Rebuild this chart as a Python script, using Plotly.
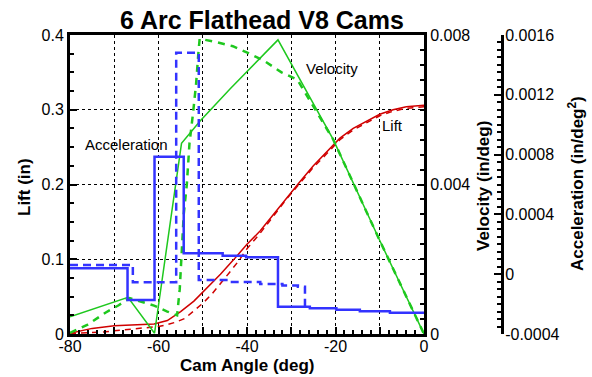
import plotly.graph_objects as go

# ---------------- data ----------------
# Lift (in) vs cam angle (deg)
lift_meas_deg = [-80, -75, -70, -67, -64, -61, -58, -55, -52, -49, -46, -43, -40, -37, -34, -31, -28, -25, -22, -19, -16, -13, -10, -7, -4, 0]
lift_meas_val = [0.001, 0.0075, 0.011, 0.012, 0.013, 0.0134, 0.018, 0.030, 0.044, 0.062, 0.080, 0.0995, 0.120, 0.138, 0.160, 0.183, 0.204, 0.225, 0.243, 0.262, 0.275, 0.285, 0.294, 0.300, 0.304, 0.306]
lift_des_deg = [-80, -76, -72, -68, -65, -62, -60, -58, -56, -54, -52, -51, -50, -48, -46, -44, -42, -40, -37, -34, -31, -28, -25, -22, -19, -16, -13, -10, -7, -4, 0]
lift_des_val = [0.0005, 0.0015, 0.003, 0.0055, 0.0075, 0.009, 0.010, 0.0125, 0.016, 0.021, 0.031, 0.036, 0.041, 0.053, 0.067, 0.082, 0.097, 0.114, 0.135, 0.158, 0.181, 0.202, 0.223, 0.241, 0.260, 0.273, 0.283, 0.292, 0.298, 0.302, 0.304]

# Velocity (in/deg)
vel_meas_deg = [-80, -66.9, -60.9, -54.8, -50.6, -43.9, -33.0, -20.5, -10, 0]
vel_meas_val = [0.00046, 0.00098, 0.00002, 0.0051, 0.0057, 0.00655, 0.00787, 0.0052, 0.0025, 0.0]
vel_des_deg = [-80, -76, -72, -69, -66.5, -64, -61, -58, -55.8, -55.2, -54.8, -54.3, -53.6, -53.0, -52.2, -51.5, -51.0, -50.7, -46.6, -43.2, -39.4, -36.0, -32.2, -28.6, -20.5, -10, 0]
vel_des_val = [0.00003, 0.00025, 0.00057, 0.00077, 0.00096, 0.00087, 0.00076, 0.0006, 0.0005, 0.0012, 0.0021, 0.0032, 0.0040, 0.0051, 0.0059, 0.0067, 0.0075, 0.0079, 0.0078, 0.0077, 0.0075, 0.0073, 0.0070, 0.0068, 0.0052, 0.0025, 0.0]

# Acceleration (in/deg^2), step values
acc_meas_deg = [-80, -67.0, -60.9, -54.3, -45.5, -40.2, -33.0, -25.8, -19.8, -14.5, -7.7, 0]
acc_meas_val = [0.00004, -0.000173, 0.000786, 0.00014, 0.000124, 0.000113, -0.000217, -0.000228, -0.000238, -0.000248, -0.000258, -0.000262]
acc_des_deg = [-80, -65.8, -56.0, -50.9, -44.0, -37.0, -32.0, -28.5, -26.9]
acc_des_val = [0.000062, -0.000054, 0.001482, -0.000039, -0.000052, -0.000066, -0.000076, -0.000084, -0.000217]

# tick labels
x_tickvals = [-80, -70, -60, -50, -40, -30, -20, -10, 0]
x_ticktext = ["-80", "", "-60", "", "-40", "", "-20", "", "0"]
lift_tickvals = [0, 0.1, 0.2, 0.3, 0.4]
lift_ticktext = ["0", "0.1", "0.2", "0.3", "0.4"]
vel_tickvals = [0, 0.004, 0.008]
vel_ticktext = ["0", "0.004", "0.008"]
acc_tickvals = [-0.0004, 0, 0.0004, 0.0008, 0.0012, 0.0016]
acc_ticktext = ["-0.0004", "0", "0.0004", "0.0008", "0.0012", "0.0016"]

# ---------------- styling ----------------
BLUE = "#3333ff"
GREEN = "#1ec81e"
RED = "#d00000"
FONT = "Liberation Sans, Arial, sans-serif"

W, H = 592, 377
ML, MR, MT, MB = 70, 20, 35, 43
paper_w = W - ML - MR
plot_right_px = 424
accel_axis_px = 502
x_dom_end = (plot_right_px - ML) / paper_w
acc_pos = (accel_axis_px - ML) / paper_w
plot_h = H - MT - MB


def px_x(px):
    return (px - ML) / paper_w


def px_y(py):
    return (H - MB - py) / plot_h


fig = go.Figure()

fig.add_trace(go.Scatter(x=acc_meas_deg, y=acc_meas_val, yaxis="y3", mode="lines",
                         line=dict(color=BLUE, width=2.5, shape="hv"), showlegend=False))
fig.add_trace(go.Scatter(x=acc_des_deg, y=acc_des_val, yaxis="y3", mode="lines",
                         line=dict(color=BLUE, width=2.5, shape="hv", dash="8px,5px"), showlegend=False))
fig.add_trace(go.Scatter(x=vel_meas_deg, y=vel_meas_val, yaxis="y2", mode="lines",
                         line=dict(color=GREEN, width=1.5), showlegend=False))
fig.add_trace(go.Scatter(x=vel_des_deg, y=vel_des_val, yaxis="y2", mode="lines",
                         line=dict(color=GREEN, width=2.5, dash="7px,6px"), showlegend=False))
fig.add_trace(go.Scatter(x=lift_meas_deg, y=lift_meas_val, yaxis="y", mode="lines",
                         line=dict(color=RED, width=1.5), showlegend=False))
fig.add_trace(go.Scatter(x=lift_des_deg, y=lift_des_val, yaxis="y", mode="lines",
                         line=dict(color=RED, width=1.5, dash="6px,5px"), showlegend=False))

tickfont = dict(family=FONT, size=16, color="black")

fig.update_layout(
    width=W, height=H,
    margin=dict(l=ML, r=MR, t=MT, b=MB, autoexpand=False),
    paper_bgcolor="white", plot_bgcolor="white",
    font=dict(family=FONT, color="black"),
    xaxis=dict(
        domain=[0, x_dom_end], range=[-80, 0],
        tickmode="array", tickvals=x_tickvals, ticktext=x_ticktext,
        ticks="inside", ticklen=7, tickwidth=2, tickcolor="black",
        showline=True, linewidth=3, linecolor="black", mirror=True,
        showgrid=True, gridcolor="black", gridwidth=1, griddash="dot",
        zeroline=False, tickfont=tickfont, ticklabelstandoff=-4,
        minor=dict(dtick=2, tick0=0, ticks="inside", ticklen=4, tickwidth=1.5, tickcolor="black", showgrid=False),
    ),
    yaxis=dict(
        range=[0, 0.4],
        tickmode="array", tickvals=lift_tickvals, ticktext=lift_ticktext,
        ticks="inside", ticklen=7, tickwidth=2, tickcolor="black",
        showline=True, linewidth=3, linecolor="black",
        showgrid=True, gridcolor="black", gridwidth=1, griddash="dot",
        zeroline=False, tickfont=tickfont,
        minor=dict(dtick=0.025, tick0=0, ticks="inside", ticklen=4, tickwidth=1.5, tickcolor="black", showgrid=False),
    ),
    yaxis2=dict(
        range=[0, 0.008], overlaying="y", side="right", anchor="x",
        tickmode="array", tickvals=vel_tickvals, ticktext=vel_ticktext,
        ticks="inside", ticklen=7, tickwidth=2, tickcolor="black",
        showline=True, linewidth=3, linecolor="black",
        showgrid=False, zeroline=False, tickfont=tickfont,
        minor=dict(dtick=0.0004, tick0=0, ticks="inside", ticklen=4, tickwidth=1.5, tickcolor="black", showgrid=False),
    ),
    yaxis3=dict(
        range=[-0.0004, 0.0016], overlaying="y", side="right", anchor="free", position=acc_pos,
        tickmode="array", tickvals=acc_tickvals, ticktext=acc_ticktext,
        ticks="inside", ticklen=7, tickwidth=2, tickcolor="black",
        showline=True, linewidth=3, linecolor="black",
        showgrid=False, zeroline=False, tickfont=tickfont, ticklabelstandoff=-2,
        minor=dict(dtick=0.00005, tick0=0, ticks="inside", ticklen=4, tickwidth=1.5, tickcolor="black", showgrid=False),
    ),
)

bold = dict(family=FONT, size=17, color="black")
ann = [
    dict(text="<b>6 Arc Flathead V8 Cams</b>", x=px_x(261.5), y=px_y(20), font=dict(family=FONT, size=25, color="black")),
    dict(text="<b>Cam Angle (deg)</b>", x=px_x(247), y=px_y(365), font=bold),
    dict(text="<b>Lift (in)</b>", x=px_x(24), y=px_y(187), font=bold, textangle=-90),
    dict(text="<b>Velocity (in/deg)</b>", x=px_x(483), y=px_y(186), font=bold, textangle=-90),
    dict(text="<b>Acceleration (in/deg<sup>2</sup>)</b>", x=px_x(576), y=px_y(184), font=bold, textangle=-90),
    dict(text="Acceleration", x=px_x(126), y=px_y(144), font=dict(family=FONT, size=15, color="black")),
    dict(text="Velocity", x=px_x(332), y=px_y(68), font=dict(family=FONT, size=15, color="black")),
    dict(text="Lift", x=px_x(392), y=px_y(125), font=dict(family=FONT, size=15, color="black")),
]
for a in ann:
    fig.add_annotation(xref="paper", yref="paper", showarrow=False, xanchor="center", yanchor="middle", **a)

fig.write_html(
    "out.html",
    config={"displayModeBar": False},
    post_script="document.body.style.margin='0';document.body.style.padding='0';document.body.style.overflow='hidden';",
)
